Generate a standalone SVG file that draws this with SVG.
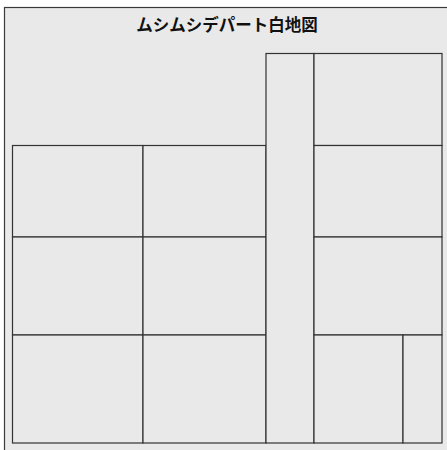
<svg xmlns="http://www.w3.org/2000/svg" width="447" height="450" viewBox="0 0 447 450">
<style>
.frame{fill:#e9e9e9;stroke:#3a3a3a;stroke-width:1.2}
.room{fill:#e9e9e9;stroke:#333;stroke-width:1.2}
.title{font-family:"Noto Sans CJK JP","Noto Sans CJK SC",sans-serif;font-weight:bold;font-size:16.5px;fill:#111;text-anchor:middle}
</style>
<rect width="447" height="450" fill="#ffffff"/>
<rect class="frame" x="4.5" y="7.5" width="460" height="460"/>
<text class="title" x="227" y="31">ムシムシデパート白地図</text>
<g id="rooms">
<g id="r-l1"><rect class="room" x="12.5" y="145.5" width="130.5" height="91.5"/></g>
<g id="r-l2"><rect class="room" x="12.5" y="237" width="130.5" height="98"/></g>
<g id="r-l3"><rect class="room" x="12.5" y="335" width="130.5" height="108"/></g>
<g id="r-m1"><rect class="room" x="143" y="145.5" width="123" height="91.5"/></g>
<g id="r-m2"><rect class="room" x="143" y="237" width="123" height="98"/></g>
<g id="r-m3"><rect class="room" x="143" y="335" width="123" height="108"/></g>
<g id="r-col"><rect class="room" x="266" y="53.5" width="48" height="389.5"/></g>
<g id="r-r1"><rect class="room" x="314" y="53.5" width="128" height="92"/></g>
<g id="r-r2"><rect class="room" x="314" y="145.5" width="128" height="91.5"/></g>
<g id="r-r3"><rect class="room" x="314" y="237" width="128" height="98"/></g>
<g id="r-r4a"><rect class="room" x="314" y="335" width="89" height="108"/></g>
<g id="r-r4b"><rect class="room" x="403" y="335" width="39" height="108"/></g>
</g>
<g id="connectors"></g>
</svg>
